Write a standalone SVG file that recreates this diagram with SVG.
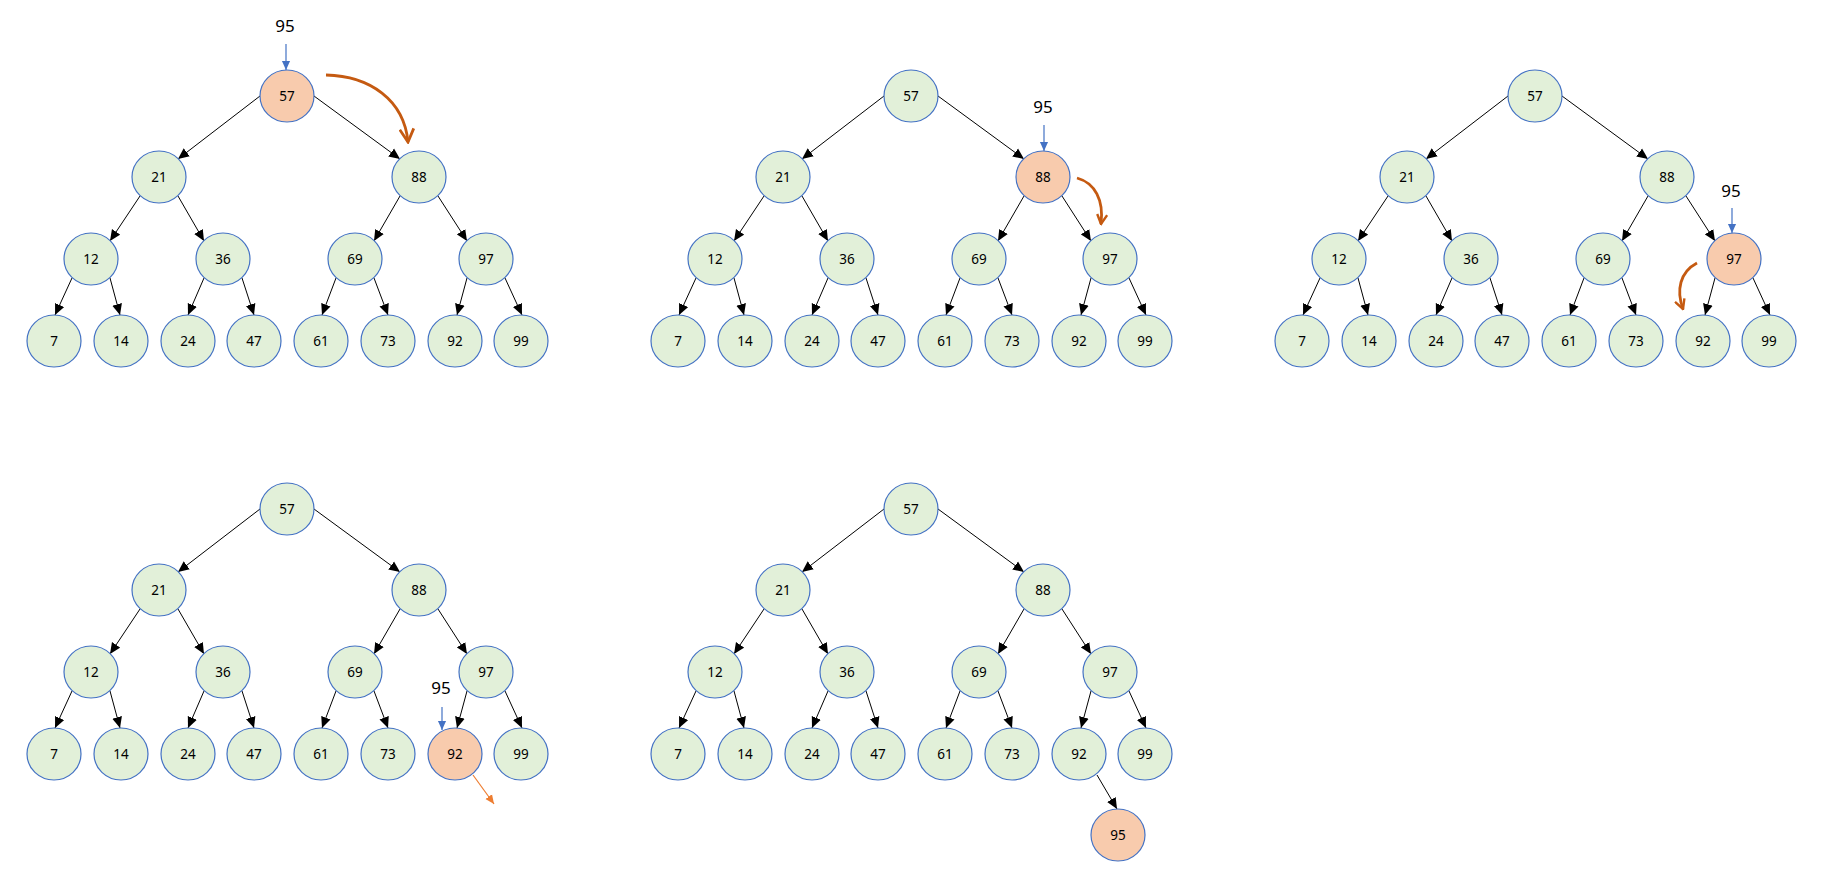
<svg xmlns="http://www.w3.org/2000/svg" width="1831" height="882" viewBox="0 0 1831 882">
<style>
.n ellipse{fill:#E2F0D9;stroke:#4472C4;stroke-width:1.2}
.n.hot ellipse{fill:#F8CBAD}
.n text{font-family:"Noto Sans","Open Sans",sans-serif;font-size:13.5px;text-anchor:middle;fill:#000}
.e line{stroke:#000;stroke-width:1;marker-end:url(#ah)}
.lbl{font-family:"Noto Sans","Open Sans",sans-serif;font-size:17px;text-anchor:middle;fill:#000}
.blue{stroke:#4472C4;stroke-width:1.2;marker-end:url(#bh)}
.curve{fill:none;stroke:#C55A11;stroke-width:2.8}
</style>
<defs>
<marker id="ah" viewBox="0 0 10 10" refX="10" refY="5" markerWidth="11" markerHeight="11" markerUnits="userSpaceOnUse" orient="auto"><path d="M0,0.5 L10,5 L0,9.5 z" fill="#000"/></marker>
<marker id="bh" viewBox="0 0 10 10" refX="10" refY="5" markerWidth="9" markerHeight="10" markerUnits="userSpaceOnUse" orient="auto"><path d="M0,0.5 L10,5 L0,9.5 z" fill="#4472C4"/></marker>
<marker id="oh" viewBox="0 0 10 10" refX="10" refY="5" markerWidth="9" markerHeight="9" markerUnits="userSpaceOnUse" orient="auto"><path d="M0,0.5 L10,5 L0,9.5 z" fill="#ED7D31"/></marker>
<marker id="cv1" viewBox="0 0 16 16" refX="14" refY="8" markerWidth="16" markerHeight="16" markerUnits="userSpaceOnUse" orient="auto"><path d="M1,1 L14,8 L1,15" fill="none" stroke="#C55A11" stroke-width="2.8"/></marker>
<marker id="cv2" viewBox="0 0 12 12" refX="10.5" refY="6" markerWidth="12" markerHeight="12" markerUnits="userSpaceOnUse" orient="auto"><path d="M1,1 L10.5,6 L1,11" fill="none" stroke="#C55A11" stroke-width="2.4"/></marker>
<g id="edges-tpl" class="e" stroke="#000" stroke-width="1" marker-end="url(#ah)">
<line x1="260" y1="96" x2="178" y2="159"/>
<line x1="314" y1="96" x2="400" y2="159"/>
<line x1="140" y1="196" x2="110" y2="241"/>
<line x1="178" y1="196" x2="204" y2="241"/>
<line x1="400" y1="196" x2="374" y2="241"/>
<line x1="438" y1="196" x2="467" y2="241"/>
<line x1="72" y1="278" x2="55" y2="315"/>
<line x1="110" y1="278" x2="120" y2="315"/>
<line x1="204" y1="278" x2="188" y2="315"/>
<line x1="242" y1="278" x2="254" y2="315"/>
<line x1="336" y1="278" x2="322" y2="315"/>
<line x1="374" y1="278" x2="388" y2="315"/>
<line x1="467" y1="278" x2="457" y2="315"/>
<line x1="505" y1="278" x2="522" y2="315"/>
</g>
</defs>

<g id="connectors">
  <g class="e" transform="translate(0,0)"><use href="#edges-tpl"/></g>
  <g class="e" transform="translate(624,0)"><use href="#edges-tpl"/></g>
  <g class="e" transform="translate(1248,0)"><use href="#edges-tpl"/></g>
  <g class="e" transform="translate(0,413)"><use href="#edges-tpl"/></g>
  <g class="e" transform="translate(624,413)"><use href="#edges-tpl"/><line x1="473" y1="362" x2="493" y2="396"/></g>
  <line class="blue" x1="286" y1="44" x2="286" y2="70"/>
  <line class="blue" x1="1044" y1="125" x2="1044" y2="151"/>
  <line class="blue" x1="1732" y1="208" x2="1732" y2="233"/>
  <line class="blue" x1="442" y1="707" x2="442" y2="730"/>
  <line x1="473" y1="775" x2="494" y2="804" stroke="#ED7D31" stroke-width="1.2" marker-end="url(#oh)"/>
  <path class="curve" d="M326,75 C370,76 404,100 408,142" marker-end="url(#cv1)"/>
  <path class="curve" d="M1077,178 C1095,183 1104,200 1101,224" stroke-width="2.4" marker-end="url(#cv2)"/>
  <path class="curve" d="M1697,263 C1680,272 1676,290 1683,309" stroke-width="2.4" marker-end="url(#cv2)"/>
</g>

<g id="panel1">
  <g id="p1-57" class="n hot"><ellipse cx="287" cy="96" rx="27" ry="26"/><text x="287" y="101">57</text></g>
  <g id="p1-21" class="n"><ellipse cx="159" cy="177" rx="27" ry="26"/><text x="159" y="182">21</text></g>
  <g id="p1-88" class="n"><ellipse cx="419" cy="177" rx="27" ry="26"/><text x="419" y="182">88</text></g>
  <g id="p1-12" class="n"><ellipse cx="91" cy="259" rx="27" ry="26"/><text x="91" y="264">12</text></g>
  <g id="p1-36" class="n"><ellipse cx="223" cy="259" rx="27" ry="26"/><text x="223" y="264">36</text></g>
  <g id="p1-69" class="n"><ellipse cx="355" cy="259" rx="27" ry="26"/><text x="355" y="264">69</text></g>
  <g id="p1-97" class="n"><ellipse cx="486" cy="259" rx="27" ry="26"/><text x="486" y="264">97</text></g>
  <g id="p1-7" class="n"><ellipse cx="54" cy="341" rx="27" ry="26"/><text x="54" y="346">7</text></g>
  <g id="p1-14" class="n"><ellipse cx="121" cy="341" rx="27" ry="26"/><text x="121" y="346">14</text></g>
  <g id="p1-24" class="n"><ellipse cx="188" cy="341" rx="27" ry="26"/><text x="188" y="346">24</text></g>
  <g id="p1-47" class="n"><ellipse cx="254" cy="341" rx="27" ry="26"/><text x="254" y="346">47</text></g>
  <g id="p1-61" class="n"><ellipse cx="321" cy="341" rx="27" ry="26"/><text x="321" y="346">61</text></g>
  <g id="p1-73" class="n"><ellipse cx="388" cy="341" rx="27" ry="26"/><text x="388" y="346">73</text></g>
  <g id="p1-92" class="n"><ellipse cx="455" cy="341" rx="27" ry="26"/><text x="455" y="346">92</text></g>
  <g id="p1-99" class="n"><ellipse cx="521" cy="341" rx="27" ry="26"/><text x="521" y="346">99</text></g>
  <text class="lbl" x="285" y="32">95</text>
</g>

<g id="panel2" transform="translate(624,0)">
  <g id="p2-57" class="n"><ellipse cx="287" cy="96" rx="27" ry="26"/><text x="287" y="101">57</text></g>
  <g id="p2-21" class="n"><ellipse cx="159" cy="177" rx="27" ry="26"/><text x="159" y="182">21</text></g>
  <g id="p2-88" class="n hot"><ellipse cx="419" cy="177" rx="27" ry="26"/><text x="419" y="182">88</text></g>
  <g id="p2-12" class="n"><ellipse cx="91" cy="259" rx="27" ry="26"/><text x="91" y="264">12</text></g>
  <g id="p2-36" class="n"><ellipse cx="223" cy="259" rx="27" ry="26"/><text x="223" y="264">36</text></g>
  <g id="p2-69" class="n"><ellipse cx="355" cy="259" rx="27" ry="26"/><text x="355" y="264">69</text></g>
  <g id="p2-97" class="n"><ellipse cx="486" cy="259" rx="27" ry="26"/><text x="486" y="264">97</text></g>
  <g id="p2-7" class="n"><ellipse cx="54" cy="341" rx="27" ry="26"/><text x="54" y="346">7</text></g>
  <g id="p2-14" class="n"><ellipse cx="121" cy="341" rx="27" ry="26"/><text x="121" y="346">14</text></g>
  <g id="p2-24" class="n"><ellipse cx="188" cy="341" rx="27" ry="26"/><text x="188" y="346">24</text></g>
  <g id="p2-47" class="n"><ellipse cx="254" cy="341" rx="27" ry="26"/><text x="254" y="346">47</text></g>
  <g id="p2-61" class="n"><ellipse cx="321" cy="341" rx="27" ry="26"/><text x="321" y="346">61</text></g>
  <g id="p2-73" class="n"><ellipse cx="388" cy="341" rx="27" ry="26"/><text x="388" y="346">73</text></g>
  <g id="p2-92" class="n"><ellipse cx="455" cy="341" rx="27" ry="26"/><text x="455" y="346">92</text></g>
  <g id="p2-99" class="n"><ellipse cx="521" cy="341" rx="27" ry="26"/><text x="521" y="346">99</text></g>
  <text class="lbl" x="419" y="113">95</text>
</g>

<g id="panel3" transform="translate(1248,0)">
  <g id="p3-57" class="n"><ellipse cx="287" cy="96" rx="27" ry="26"/><text x="287" y="101">57</text></g>
  <g id="p3-21" class="n"><ellipse cx="159" cy="177" rx="27" ry="26"/><text x="159" y="182">21</text></g>
  <g id="p3-88" class="n"><ellipse cx="419" cy="177" rx="27" ry="26"/><text x="419" y="182">88</text></g>
  <g id="p3-12" class="n"><ellipse cx="91" cy="259" rx="27" ry="26"/><text x="91" y="264">12</text></g>
  <g id="p3-36" class="n"><ellipse cx="223" cy="259" rx="27" ry="26"/><text x="223" y="264">36</text></g>
  <g id="p3-69" class="n"><ellipse cx="355" cy="259" rx="27" ry="26"/><text x="355" y="264">69</text></g>
  <g id="p3-97" class="n hot"><ellipse cx="486" cy="259" rx="27" ry="26"/><text x="486" y="264">97</text></g>
  <g id="p3-7" class="n"><ellipse cx="54" cy="341" rx="27" ry="26"/><text x="54" y="346">7</text></g>
  <g id="p3-14" class="n"><ellipse cx="121" cy="341" rx="27" ry="26"/><text x="121" y="346">14</text></g>
  <g id="p3-24" class="n"><ellipse cx="188" cy="341" rx="27" ry="26"/><text x="188" y="346">24</text></g>
  <g id="p3-47" class="n"><ellipse cx="254" cy="341" rx="27" ry="26"/><text x="254" y="346">47</text></g>
  <g id="p3-61" class="n"><ellipse cx="321" cy="341" rx="27" ry="26"/><text x="321" y="346">61</text></g>
  <g id="p3-73" class="n"><ellipse cx="388" cy="341" rx="27" ry="26"/><text x="388" y="346">73</text></g>
  <g id="p3-92" class="n"><ellipse cx="455" cy="341" rx="27" ry="26"/><text x="455" y="346">92</text></g>
  <g id="p3-99" class="n"><ellipse cx="521" cy="341" rx="27" ry="26"/><text x="521" y="346">99</text></g>
  <text class="lbl" x="483" y="197">95</text>
</g>

<g id="panel4" transform="translate(0,413)">
  <g id="p4-57" class="n"><ellipse cx="287" cy="96" rx="27" ry="26"/><text x="287" y="101">57</text></g>
  <g id="p4-21" class="n"><ellipse cx="159" cy="177" rx="27" ry="26"/><text x="159" y="182">21</text></g>
  <g id="p4-88" class="n"><ellipse cx="419" cy="177" rx="27" ry="26"/><text x="419" y="182">88</text></g>
  <g id="p4-12" class="n"><ellipse cx="91" cy="259" rx="27" ry="26"/><text x="91" y="264">12</text></g>
  <g id="p4-36" class="n"><ellipse cx="223" cy="259" rx="27" ry="26"/><text x="223" y="264">36</text></g>
  <g id="p4-69" class="n"><ellipse cx="355" cy="259" rx="27" ry="26"/><text x="355" y="264">69</text></g>
  <g id="p4-97" class="n"><ellipse cx="486" cy="259" rx="27" ry="26"/><text x="486" y="264">97</text></g>
  <g id="p4-7" class="n"><ellipse cx="54" cy="341" rx="27" ry="26"/><text x="54" y="346">7</text></g>
  <g id="p4-14" class="n"><ellipse cx="121" cy="341" rx="27" ry="26"/><text x="121" y="346">14</text></g>
  <g id="p4-24" class="n"><ellipse cx="188" cy="341" rx="27" ry="26"/><text x="188" y="346">24</text></g>
  <g id="p4-47" class="n"><ellipse cx="254" cy="341" rx="27" ry="26"/><text x="254" y="346">47</text></g>
  <g id="p4-61" class="n"><ellipse cx="321" cy="341" rx="27" ry="26"/><text x="321" y="346">61</text></g>
  <g id="p4-73" class="n"><ellipse cx="388" cy="341" rx="27" ry="26"/><text x="388" y="346">73</text></g>
  <g id="p4-92" class="n hot"><ellipse cx="455" cy="341" rx="27" ry="26"/><text x="455" y="346">92</text></g>
  <g id="p4-99" class="n"><ellipse cx="521" cy="341" rx="27" ry="26"/><text x="521" y="346">99</text></g>
  <text class="lbl" x="441" y="281">95</text>
</g>

<g id="panel5" transform="translate(624,413)">
  <g id="p5-57" class="n"><ellipse cx="287" cy="96" rx="27" ry="26"/><text x="287" y="101">57</text></g>
  <g id="p5-21" class="n"><ellipse cx="159" cy="177" rx="27" ry="26"/><text x="159" y="182">21</text></g>
  <g id="p5-88" class="n"><ellipse cx="419" cy="177" rx="27" ry="26"/><text x="419" y="182">88</text></g>
  <g id="p5-12" class="n"><ellipse cx="91" cy="259" rx="27" ry="26"/><text x="91" y="264">12</text></g>
  <g id="p5-36" class="n"><ellipse cx="223" cy="259" rx="27" ry="26"/><text x="223" y="264">36</text></g>
  <g id="p5-69" class="n"><ellipse cx="355" cy="259" rx="27" ry="26"/><text x="355" y="264">69</text></g>
  <g id="p5-97" class="n"><ellipse cx="486" cy="259" rx="27" ry="26"/><text x="486" y="264">97</text></g>
  <g id="p5-7" class="n"><ellipse cx="54" cy="341" rx="27" ry="26"/><text x="54" y="346">7</text></g>
  <g id="p5-14" class="n"><ellipse cx="121" cy="341" rx="27" ry="26"/><text x="121" y="346">14</text></g>
  <g id="p5-24" class="n"><ellipse cx="188" cy="341" rx="27" ry="26"/><text x="188" y="346">24</text></g>
  <g id="p5-47" class="n"><ellipse cx="254" cy="341" rx="27" ry="26"/><text x="254" y="346">47</text></g>
  <g id="p5-61" class="n"><ellipse cx="321" cy="341" rx="27" ry="26"/><text x="321" y="346">61</text></g>
  <g id="p5-73" class="n"><ellipse cx="388" cy="341" rx="27" ry="26"/><text x="388" y="346">73</text></g>
  <g id="p5-92" class="n"><ellipse cx="455" cy="341" rx="27" ry="26"/><text x="455" y="346">92</text></g>
  <g id="p5-99" class="n"><ellipse cx="521" cy="341" rx="27" ry="26"/><text x="521" y="346">99</text></g>
  <g id="p5-95" class="n hot"><ellipse cx="494" cy="422" rx="27" ry="26"/><text x="494" y="427">95</text></g>
</g>
</svg>
